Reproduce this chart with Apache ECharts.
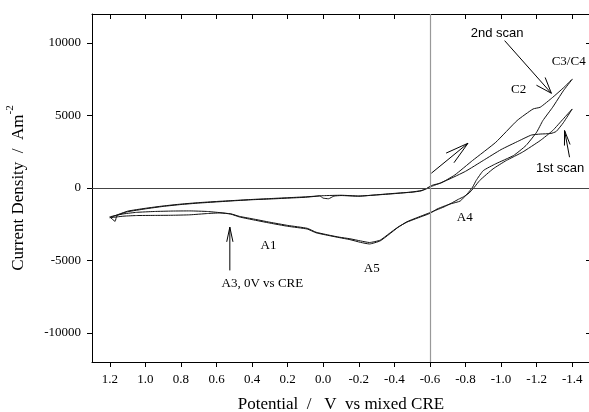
<!DOCTYPE html>
<html>
<head>
<meta charset="utf-8">
<script src="https://cdn.jsdelivr.net/npm/echarts@6/dist/echarts.min.js"></script>
<style>
  html, body { margin: 0; padding: 0; background: #fff; }
  #chart { width: 589px; height: 412px; }
</style>
</head>
<body>
<div id="chart"></div>
<script>
// Axis ticks
const potentialTicks = [1.2, 1.0, 0.8, 0.6, 0.4, 0.2, 0.0, -0.2, -0.4, -0.6, -0.8, -1.0, -1.2, -1.4];
const currentTicks = [-10000, -5000, 0, 5000, 10000];

// 1st scan: cathodic sweep (1.2 V -> -1.4 V)
const scan1ForwardV = [1.20, 1.17, 1.16, 1.10, 1.00, 0.90, 0.80, 0.70, 0.60, 0.50, 0.40, 0.30, 0.20, 0.10, 0.04, 0.02, 0.00, -0.03, -0.06, -0.10, -0.20, -0.30, -0.40, -0.50, -0.55, -0.58, -0.60, -0.62, -0.70, -0.80, -0.90, -1.00, -1.10, -1.17, -1.22, -1.28, -1.31, -1.35, -1.40];
const scan1ForwardJ = [-1990, -2300, -1900, -1640, -1440, -1270, -1140, -1040, -960, -880, -810, -760, -700, -640, -570, -540, -700, -740, -560, -520, -570, -470, -370, -290, -200, -60, 80, 160, 560, 1150, 1900, 2650, 3250, 3650, 3720, 3760, 3900, 4500, 5450];

// 1st scan: anodic return (-1.4 V -> 1.2 V)
const scan1ReturnV = [-1.40, -1.35, -1.29, -1.22, -1.12, -1.03, -0.955, -0.88, -0.85, -0.82, -0.79, -0.76, -0.72, -0.68, -0.64, -0.60, -0.52, -0.47, -0.42, -0.37, -0.32, -0.26, -0.21, -0.15, -0.09, -0.04, 0.04, 0.09, 0.20, 0.30, 0.40, 0.47, 0.52, 0.58, 0.65, 0.75, 0.85, 0.95, 1.05, 1.12, 1.17, 1.20];
const scan1ReturnJ = [5450, 4770, 3960, 3270, 2470, 1900, 1320, 520, 60, -350, -600, -780, -1050, -1300, -1500, -1700, -2080, -2330, -2720, -3200, -3650, -3860, -3750, -3560, -3420, -3300, -3090, -2830, -2640, -2420, -2180, -2000, -1800, -1700, -1620, -1580, -1590, -1620, -1680, -1780, -1900, -1990];

// 2nd scan: cathodic sweep
const scan2ForwardV = [1.20, 1.10, 1.00, 0.90, 0.80, 0.70, 0.60, 0.50, 0.40, 0.30, 0.20, 0.10, 0.00, -0.10, -0.20, -0.30, -0.40, -0.50, -0.55, -0.58, -0.60, -0.62, -0.66, -0.74, -0.84, -0.97, -1.09, -1.18, -1.22, -1.29, -1.35, -1.40];
const scan2ForwardJ = [-2050, -1600, -1400, -1240, -1110, -1010, -930, -860, -790, -730, -670, -610, -530, -500, -550, -480, -390, -270, -180, -40, 110, 220, 330, 900, 1900, 3150, 4650, 5450, 5570, 6250, 6900, 7500];

// 2nd scan: anodic return
const scan2ReturnV = [-1.40, -1.35, -1.29, -1.235, -1.20, -1.14, -1.07, -0.97, -0.90, -0.86, -0.84, -0.81, -0.77, -0.72, -0.68, -0.64, -0.60, -0.52, -0.47, -0.42, -0.37, -0.32, -0.26, -0.21, -0.15, -0.09, -0.04, 0.04, 0.09, 0.20, 0.30, 0.40, 0.47, 0.52, 0.58, 0.65, 0.75, 0.85, 0.95, 1.05, 1.12, 1.20];
const scan2ReturnJ = [7500, 6700, 5570, 4650, 3850, 2930, 2240, 1670, 1200, 520, 60, -400, -900, -1080, -1250, -1450, -1750, -2120, -2360, -2700, -3150, -3600, -3760, -3650, -3500, -3390, -3270, -3050, -2780, -2580, -2360, -2120, -1960, -1780, -1720, -1760, -1850, -1880, -1890, -1900, -1940, -2050];

// Peak labels, placed in data coordinates
const labelTexts = ['2nd scan', '1st scan', 'C3/C4', 'C2', 'A4', 'A5', 'A1', 'A3, 0V vs CRE'];
const labelV = [-0.978, -1.332, -1.380, -1.099, -0.796, -0.273, 0.308, 0.342];
const labelJ = [10666, 1323, 8716, 6766, -2053, -5567, -3962, -6559];
const labelSans = [true, true, false, false, false, false, false, false];

// Arrows: tail -> tip, in data coordinates
const arrowTailV = [-1.020, -1.385, 0.525, -0.608];
const arrowTailJ = [10163, 2122, -5684, 1020];
const arrowTipV = [-1.283, -1.357, 0.525, -0.814];
const arrowTipJ = [6532, 3962, -2701, 3087];
const arrowHeadLen = [17, 15, 15, 24];
const arrowHeadDeg = [20, 11, 12, 15];

const zip = (a, b) => a.map((v, i) => [v, b[i]]);
const scan1 = zip(scan1ForwardV, scan1ForwardJ).concat(zip(scan1ReturnV, scan1ReturnJ));
const scan2 = zip(scan2ForwardV, scan2ForwardJ).concat(zip(scan2ReturnV, scan2ReturnJ));

const SERIF = '"Liberation Serif", "Times New Roman", serif';
const SANS = '"Liberation Sans", Arial, sans-serif';

const chart = echarts.init(document.getElementById('chart'), null, { renderer: 'canvas' });

const curveStyle = { color: '#111', width: 1 };

const option = {
  animation: false,
  backgroundColor: '#fff',
  grid: { left: 92, top: 14, width: 498, height: 348, containLabel: false, outerBoundsMode: 'none' },
  xAxis: [
    {
      type: 'value', position: 'bottom', inverse: true, min: -1.5, max: 1.3,
      axisLine: { show: true, onZero: false, lineStyle: { color: '#000', width: 1 } },
      axisTick: { show: true, inside: false, length: 5, customValues: potentialTicks, lineStyle: { color: '#000' } },
      axisLabel: {
        customValues: potentialTicks, formatter: v => v.toFixed(1),
        fontFamily: SERIF, fontSize: 13, color: '#000', margin: 11
      },
      splitLine: { show: false },
      name: 'Potential  /   V  vs mixed CRE',
      nameLocation: 'middle', nameGap: 34,
      nameTextStyle: { fontFamily: SERIF, fontSize: 17, color: '#000' }
    },
    {
      type: 'value', position: 'top', inverse: true, min: -1.5, max: 1.3,
      axisLine: { show: true, onZero: false, lineStyle: { color: '#000', width: 1 } },
      axisTick: { show: true, inside: true, length: 5, customValues: potentialTicks, lineStyle: { color: '#000' } },
      axisLabel: { show: false },
      splitLine: { show: false }
    }
  ],
  yAxis: [
    {
      type: 'value', position: 'left', min: -12000, max: 12000,
      axisLine: { show: true, onZero: false, lineStyle: { color: '#000', width: 1 } },
      axisTick: { show: true, inside: false, length: 5, customValues: currentTicks, lineStyle: { color: '#000' } },
      axisLabel: {
        customValues: currentTicks, formatter: v => String(v),
        fontFamily: SERIF, fontSize: 13, color: '#000', margin: 11
      },
      splitLine: { show: false },
      name: '{b|Current Density  /  Am}{s|-2}',
      nameLocation: 'middle', nameGap: 65,
      nameTextStyle: {
        rich: {
          b: { fontFamily: SERIF, fontSize: 17, color: '#000', lineHeight: 22, verticalAlign: 'bottom' },
          s: { fontFamily: SERIF, fontSize: 11, color: '#000', lineHeight: 22, verticalAlign: 'top' }
        }
      }
    },
    {
      type: 'value', position: 'right', min: -12000, max: 12000,
      axisLine: { show: true, onZero: false, lineStyle: { color: '#000', width: 1 } },
      axisTick: { show: true, inside: true, length: 4, customValues: currentTicks, lineStyle: { color: '#000' } },
      axisLabel: { show: false },
      splitLine: { show: false }
    }
  ],
  series: [
    {
      name: '1st scan', type: 'line', xAxisIndex: 0, yAxisIndex: 0,
      data: scan1, showSymbol: false, smooth: 0.15, lineStyle: curveStyle, z: 3,
      markLine: {
        silent: true, symbol: 'none', label: { show: false },
        data: [
          { yAxis: 0, lineStyle: { color: '#444', width: 1, type: 'solid' } },
          { xAxis: -0.6, lineStyle: { color: '#999', width: 1.2, type: 'solid' } }
        ]
      }
    },
    {
      name: '2nd scan', type: 'line', xAxisIndex: 0, yAxisIndex: 0,
      data: scan2, showSymbol: false, smooth: 0.15, lineStyle: curveStyle, z: 3
    }
  ]
};

chart.setOption(option);

// Annotations: peak labels and open-headed arrows
const toPx = (v, j) => chart.convertToPixel({ xAxisIndex: 0, yAxisIndex: 0 }, [v, j]);
const graphics = [];

labelTexts.forEach((t, i) => {
  const p = toPx(labelV[i], labelJ[i]);
  graphics.push({
    type: 'text', x: p[0], y: p[1], z: 10,
    style: {
      text: t, fill: '#000', align: 'center', verticalAlign: 'middle',
      fontSize: 13, fontFamily: labelSans[i] ? SANS : SERIF
    }
  });
});

arrowTailV.forEach((_, i) => {
  const s = toPx(arrowTailV[i], arrowTailJ[i]);
  const t = toPx(arrowTipV[i], arrowTipJ[i]);
  const dx = s[0] - t[0], dy = s[1] - t[1];
  const len = Math.hypot(dx, dy);
  const ux = dx / len, uy = dy / len;
  const a = arrowHeadDeg[i] * Math.PI / 180;
  const L = arrowHeadLen[i];
  const rot = ang => [t[0] + L * (ux * Math.cos(ang) - uy * Math.sin(ang)),
                      t[1] + L * (ux * Math.sin(ang) + uy * Math.cos(ang))];
  graphics.push({
    type: 'polyline', z: 10,
    shape: { points: [s, t] },
    style: { stroke: '#000', lineWidth: 1, fill: null }
  });
  graphics.push({
    type: 'polyline', z: 10,
    shape: { points: [rot(a), t, rot(-a)] },
    style: { stroke: '#000', lineWidth: 1, fill: null }
  });
});

chart.setOption({ graphic: graphics });
</script>
</body>
</html>
